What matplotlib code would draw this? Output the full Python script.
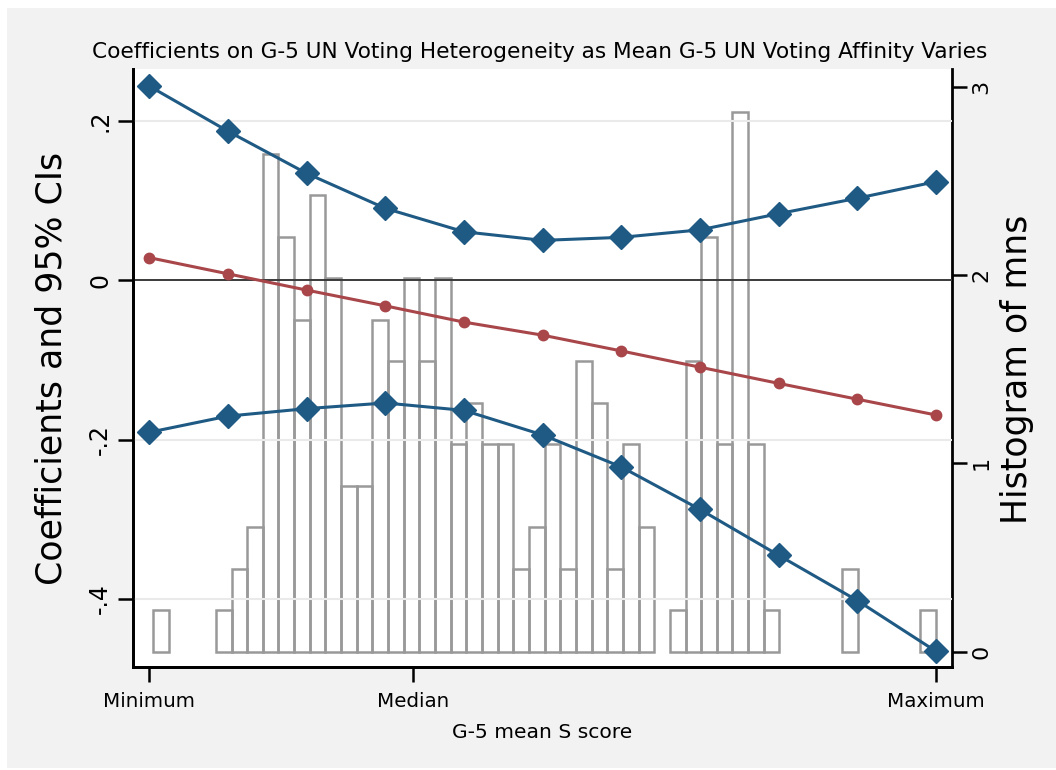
import numpy as np
import matplotlib
matplotlib.use("Agg")
import matplotlib.pyplot as plt
from matplotlib.patches import Rectangle

# evaluation points (0 = minimum, 1 = maximum of G-5 mean S score)
x_pts = [0.0, 0.1, 0.2, 0.3, 0.4, 0.5, 0.6, 0.7, 0.8, 0.9, 1.0]
coef = [0.0285, 0.0082, -0.0122, -0.0320, -0.0524, -0.0688, -0.0886,
        -0.1090, -0.1293, -0.1492, -0.1690]
ci_hi = [0.2438, 0.1872, 0.1343, 0.0904, 0.0610, 0.0502, 0.0540,
         0.0634, 0.0837, 0.1031, 0.1239]
ci_lo = [-0.1907, -0.1704, -0.1610, -0.1539, -0.1632, -0.1940, -0.2342,
         -0.2875, -0.3451, -0.4019, -0.4657]

# histogram of mns: counts per bin (50 bins), shown as density
hist_counts = [1, 0, 0, 0, 1, 2, 3, 12, 10, 8, 11, 9, 4, 4, 8, 7, 9, 7, 9, 5,
               6, 5, 5, 2, 3, 5, 2, 7, 6, 2, 5, 3, 0, 1, 7, 10, 5, 13, 5, 1,
               0, 0, 0, 0, 2, 0, 0, 0, 0, 1]
dens_per_obs = 0.2204
hist_start, hist_end = 0.005, 1.0

xtick_pos = [0.0, 0.335, 1.0]
xtick_lab = ["Minimum", "Median", "Maximum"]
ytick_pos = [-0.4, -0.2, 0.0, 0.2]
ytick_lab = ["-.4", "-.2", "0", ".2"]
y2tick_pos = [0, 1, 2, 3]

blue = "#1f5a84"
red = "#a8464a"
grey = "#999999"

W, H = 1056, 770
fig = plt.figure(figsize=(W / 100, H / 100), dpi=100)
fig.patch.set_facecolor("white")
fig.patches.append(Rectangle((7 / W, 2 / H), 1 - 7 / W, 1 - 10 / H,
                             transform=fig.transFigure, facecolor="#f2f2f2",
                             edgecolor="none", zorder=-10))

ax = fig.add_axes([133 / W, 1 - 667 / H, (952 - 133) / W, (667 - 69) / H])
ax2 = ax.twinx()

# histogram on the right axis
nb = len(hist_counts)
edges = np.linspace(hist_start, hist_end, nb + 1)
w = edges[1] - edges[0]
dens = [c * dens_per_obs for c in hist_counts]
for i in range(nb):
    if hist_counts[i] > 0:
        ax2.bar(edges[i], dens[i], width=w, align="edge", facecolor="none",
                edgecolor=grey, linewidth=1.8, zorder=1)
ax2.set_ylim(-0.081, 3.094)
ax2.set_yticks(y2tick_pos)
ax2.set_yticklabels([str(t) for t in y2tick_pos], rotation=90, va="center")

# coefficient lines on the left axis, drawn above the histogram
ax.set_zorder(ax2.get_zorder() + 1)
ax.patch.set_visible(False)
ax2.patch.set_visible(True)
ax2.patch.set_facecolor("white")

for yv in [-0.4, -0.2, 0.2]:
    ax.axhline(yv, color="#eaeaea", linewidth=1.5, zorder=0)
ax.axhline(0, color="#3a3a3a", linewidth=1.4, zorder=1)

ax.plot(x_pts, ci_hi, color=blue, linewidth=2.2, marker="D", markersize=12,
        zorder=3)
ax.plot(x_pts, ci_lo, color=blue, linewidth=2.2, marker="D", markersize=12,
        zorder=3)
ax.plot(x_pts, coef, color=red, linewidth=2.2, marker="o", markersize=7.5,
        zorder=3)

ax.set_xlim(-0.0207, 1.0203)
ax.set_ylim(-0.4853, 0.2653)
ax.set_xticks(xtick_pos)
ax.set_xticklabels(xtick_lab)
ax.set_yticks(ytick_pos)
ax.set_yticklabels(ytick_lab, rotation=90, va="center")

for a in (ax, ax2):
    a.spines["top"].set_visible(False)
    a.tick_params(length=11, width=1.8, direction="out")
for s in ["left", "bottom", "right"]:
    ax.spines[s].set_linewidth(2)
    ax2.spines[s].set_linewidth(2)
ax.spines["right"].set_visible(False)
ax.tick_params(axis="y", labelsize=17, pad=4)
ax2.tick_params(axis="y", labelsize=16, pad=3)
ax.tick_params(axis="x", labelsize=14.3, pad=7)

fig.text(540 / W, 1 - 52 / H,
         "Coefficients on G-5 UN Voting Heterogeneity as Mean G-5 UN Voting Affinity Varies",
         fontsize=15.6, ha="center", va="center")
fig.text(542 / W, 1 - 733 / H, "G-5 mean S score", fontsize=14.6,
         ha="center", va="center")
fig.text(52 / W, 1 - 368 / H, "Coefficients and 95% CIs", fontsize=25,
         rotation=90, ha="center", va="center")
fig.text(1017 / W, 1 - 369 / H, "Histogram of mns", fontsize=25,
         rotation=90, ha="center", va="center")

fig.savefig("out.png", dpi=100)
